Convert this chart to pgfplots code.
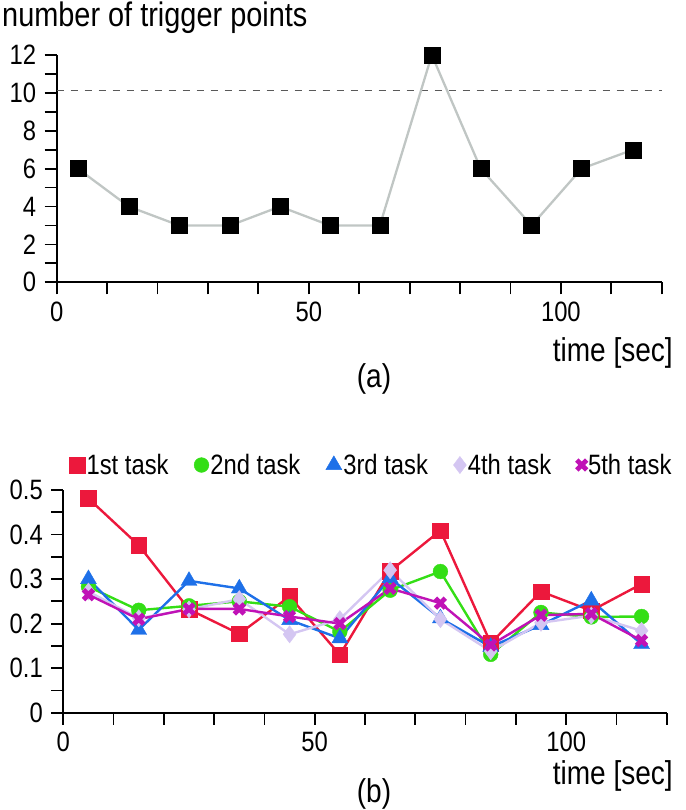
\documentclass[border=0pt]{standalone}
\usepackage{fontspec}
\setmainfont{Liberation Sans}[FakeStretch=0.85]
\usepackage{pgfplots}
\pgfplotsset{compat=1.18}

\definecolor{tred}{RGB}{236,24,60}
\definecolor{tgreen}{RGB}{52,222,22}
\definecolor{tblue}{RGB}{30,112,232}
\definecolor{tlav}{RGB}{212,198,242}
\definecolor{tmag}{RGB}{192,18,182}
\definecolor{lgray}{RGB}{192,198,196}

\pgfplotsset{
  panel/.style={
    scale only axis, axis lines=left, axis line style={-, line width=2pt},
    tick align=outside, major tick length=12pt, minor tick length=12pt,
    every tick/.style={line width=1.8pt, black},
    every minor tick/.style={line width=1.8pt, black},
    xmin=0, xmax=120, xtick={0,50,100},
    minor xtick={10,20,30,40,60,70,80,90,110,120},
    tick label style={font=\fontsize{28}{30}\selectfont},
    xticklabel style={yshift=-4pt},
    yticklabel style={xshift=-5pt},
    /pgf/number format/assume math mode=true,
    clip=false,
  }
}

\begin{document}
\begin{tikzpicture}
\path[use as bounding box] (0pt,0pt) rectangle (685pt,-810pt);

% (a) trigger points
\begin{axis}[panel,
  at={(56.7pt,-282.3pt)}, anchor=south west,
  width=605pt, height=227.3pt,
  ymin=0, ymax=12, ytick={0,2,...,12}, minor ytick={1,3,...,11}]
\addplot[color=black!65, line width=1pt, dash pattern=on 7pt off 7pt]
  coordinates {(0,10.1) (120,10.1)};
\addplot[color=lgray, line width=2.3pt, mark=square*, mark size=8pt,
  mark options={solid, fill=black, draw=black, line width=0.4pt}]
  coordinates {(4.2,6) (14.3,4) (24.3,3) (34.4,3) (44.3,4) (54.2,3)
               (64.1,3) (74.4,12) (84.1,6) (94.2,3) (104.1,6) (114.3,7)};
\end{axis}

% (b) per task
\begin{axis}[panel,
  at={(63.3pt,-712.7pt)}, anchor=south west,
  width=603.4pt, height=222.7pt,
  ymin=0, ymax=0.5, ytick={0,0.1,0.2,0.3,0.4,0.5},
  yticklabels={0,0.1,0.2,0.3,0.4,0.5},
  minor ytick={0.05,0.15,0.25,0.35,0.45},
  legend columns=5,
  legend image code/.code={\draw[#1] plot coordinates {(8pt,0pt)};},
  legend style={draw=none, fill=none, inner sep=0pt,
    at={(axis description cs:0,1)}, anchor=west, xshift=6pt, yshift=25pt,
    font=\fontsize{28}{30}\selectfont,
    nodes={inner sep=1.5pt},
    /tikz/every even column/.append style={column sep=24pt}}]
\addplot[color=tred, line width=2.4pt, mark=square*, mark size=7.8pt,
  mark options={fill=tred, line width=0.4pt}]
  coordinates {(5,0.481) (15,0.376) (25,0.232) (35,0.177) (45,0.261) (55,0.130)
               (65,0.318) (75,0.409) (85,0.156) (95,0.272) (105,0.229) (115,0.289)};
\addlegendentry{1st task}
\addplot[color=tgreen, line width=2.4pt, mark=*, mark size=7.4pt,
  mark options={fill=tgreen, line width=0.4pt}]
  coordinates {(5,0.283) (15,0.230) (25,0.240) (35,0.250) (45,0.238) (55,0.182)
               (65,0.275) (75,0.317) (85,0.131) (95,0.225) (105,0.215) (115,0.216)};
\addlegendentry{2nd task}
\addplot[color=tblue, line width=2.4pt, mark=triangle*, mark size=9.2pt,
  mark options={fill=tblue, line width=0.4pt}]
  coordinates {(5,0.300) (15,0.186) (25,0.296) (35,0.279) (45,0.208) (55,0.167)
               (65,0.302) (75,0.212) (85,0.148) (95,0.197) (105,0.252) (115,0.154)};
\addlegendentry{3rd task}
\addplot[color=tlav, line width=2.4pt, mark=diamond*, mark size=8.6pt,
  mark options={fill=tlav, line width=0.4pt}]
  coordinates {(5,0.272) (15,0.212) (25,0.232) (35,0.255) (45,0.176) (55,0.210)
               (65,0.320) (75,0.210) (85,0.138) (95,0.202) (105,0.218) (115,0.184)};
\addlegendentry{4th task}
\addplot[color=tmag, line width=2.4pt, mark=x, mark size=7pt,
  mark options={line width=4.8pt}]
  coordinates {(5,0.265) (15,0.210) (25,0.233) (35,0.233) (45,0.216) (55,0.200)
               (65,0.279) (75,0.246) (85,0.152) (95,0.219) (105,0.222) (115,0.162)};
\addlegendentry{5th task}
\end{axis}

\node[anchor=base west, inner sep=0pt, font=\fontsize{34}{36}\selectfont]
  at (2pt,-27pt) {number of trigger points};
\node[anchor=east, inner sep=0pt, font=\fontsize{33}{35}\selectfont]
  at (673pt,-353pt) {time [sec]};
\node[inner sep=0pt, font=\fontsize{33}{35}\selectfont] at (374pt,-379pt) {(a)};
\node[anchor=east, inner sep=0pt, font=\fontsize{33}{35}\selectfont]
  at (673pt,-776pt) {time [sec]};
\node[inner sep=0pt, font=\fontsize{33}{35}\selectfont] at (374pt,-794pt) {(b)};
\end{tikzpicture}
\end{document}
